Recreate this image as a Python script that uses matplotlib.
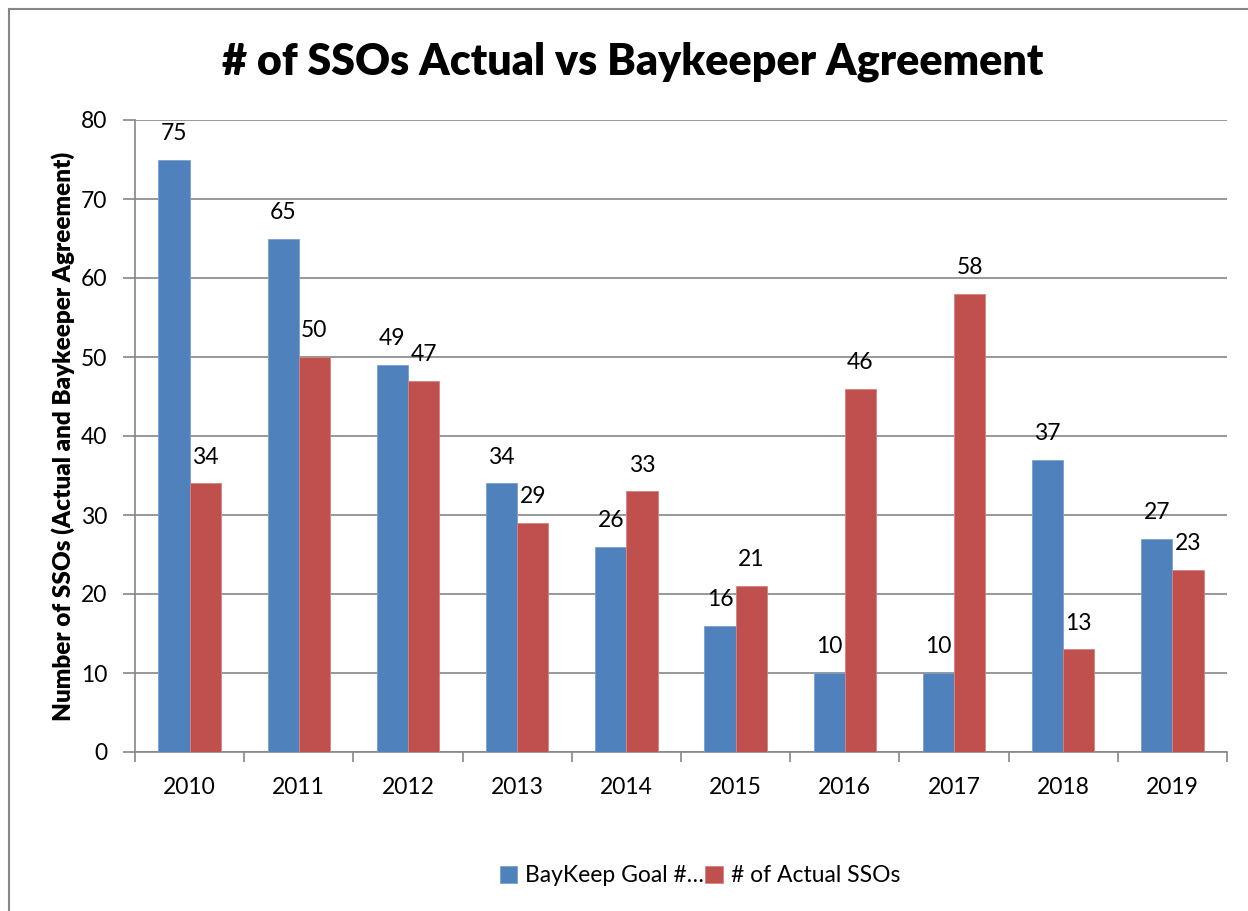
import numpy as np
import matplotlib.pyplot as plt
from matplotlib.lines import Line2D

plt.rcParams['font.family'] = ['Lato', 'DejaVu Sans']

years = ['2010', '2011', '2012', '2013', '2014', '2015', '2016', '2017', '2018', '2019']
goal = [75, 65, 49, 34, 26, 16, 10, 10, 37, 27]
actual = [34, 50, 47, 29, 33, 21, 46, 58, 13, 23]

blue = '#4F81BD'
red = '#C0504D'
gray = '#868686'

fig = plt.figure(figsize=(12.48, 9.11), dpi=100)
ax = fig.add_axes([135 / 1248, 1 - 752 / 911, 1092 / 1248, 632 / 911])

x = np.arange(len(years))
w = 1 / 3.5
ax.bar(x - w / 2, goal, w, color=blue, edgecolor='#7BA0CD', linewidth=0.6, label='BayKeep Goal #…', zorder=3)
ax.bar(x + w / 2, actual, w, color=red, edgecolor='#D38482', linewidth=0.6, label='# of Actual SSOs', zorder=3)

for i in range(len(years)):
    ax.text(x[i] - w / 2, goal[i] + 2.0, str(goal[i]), ha='center', va='bottom', fontsize=16.5)
    ax.text(x[i] + w / 2, actual[i] + 2.0, str(actual[i]), ha='center', va='bottom', fontsize=16.5)

ax.set_xlim(-0.5, len(years) - 0.5)
ax.set_ylim(0, 80)
ax.set_yticks(range(0, 81, 10))
ax.set_xticks(x)
ax.set_xticklabels(years, fontsize=16.5)
ax.set_xticks(np.arange(-0.5, len(years)), minor=True)
ax.tick_params(axis='x', which='major', length=0, pad=18)
ax.tick_params(axis='x', which='minor', length=7, color=gray, width=1.2)
ax.tick_params(axis='y', length=9, color=gray, width=1.2, labelsize=16.5, pad=11)
ax.yaxis.grid(True, color=gray, linewidth=1.2, zorder=0)
ax.set_axisbelow(True)
for s in ['top', 'right']:
    ax.spines[s].set_visible(False)
for s in ['left', 'bottom']:
    ax.spines[s].set_color(gray)
    ax.spines[s].set_linewidth(1.2)

ax.set_ylabel('Number of SSOs (Actual and Baykeeper Agreement)', fontsize=17.5, fontweight='heavy', labelpad=4)

fig.text(633 / 1248, 1 - 62 / 911, '# of SSOs Actual vs Baykeeper Agreement', ha='center', va='center',
         fontsize=31, fontweight='heavy')

fig.legend(loc='center', bbox_to_anchor=(700 / 1248, 1 - 876 / 911), ncol=2, frameon=False, fontsize=16.5,
           handlelength=0.75, handleheight=0.75, handletextpad=0.35, columnspacing=0.05)

# outer chart border (left and top visible)
fig.add_artist(Line2D([9 / 1248, 9 / 1248], [0, 1 - 9 / 911], color=gray, linewidth=1.5))
fig.add_artist(Line2D([9 / 1248, 1], [1 - 9 / 911, 1 - 9 / 911], color=gray, linewidth=1.5))

fig.savefig('out.png', dpi=100)
